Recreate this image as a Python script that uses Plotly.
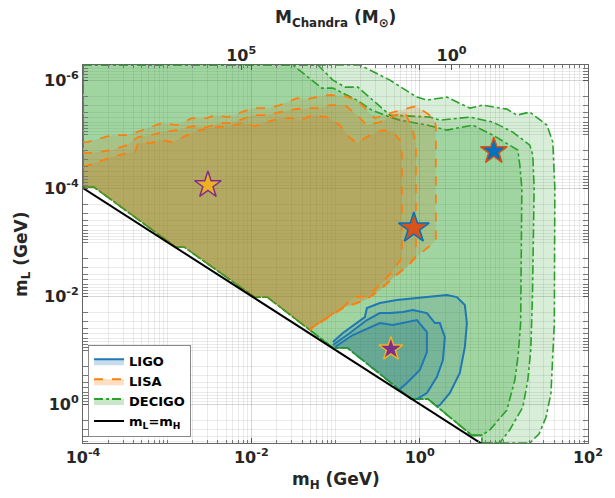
import numpy as np
import plotly.graph_objects as go

# ---------------- data (log10 values) ----------------
# shared lower boundary (staircase just above m_L = m_H), left -> right
stair_log_mH = [-4.0, -3.87, -2.90, -2.80, -1.96, -1.81, -1.03, -0.86, -0.10, 0.10, 0.62, 0.74, 0.74]
stair_log_mL = [-4.02, -4.02, -2.91, -2.91, -1.98, -1.98, -1.04, -1.04, -0.09, -0.09, 0.58, 0.58, 0.72]

# DECIGO contours: upper/right boundary, from top-left going clockwise
decigo_outer_log_mH = [-4.0, -0.71, -0.354, -0.033, 0.086, 0.323, 0.596, 0.751, 1.036, 1.154, 1.309,
                       1.511, 1.582, 1.606, 1.60, 1.56, 1.50, 1.42, 1.31]
decigo_outer_log_mL = [-6.28, -6.28, -6.0, -5.685, -5.63, -5.685, -5.481, -5.537, -5.463, -5.352, -5.407,
                       -5.167, -4.852, -4.0, -1.5, -0.2, 0.25, 0.55, 0.722]
decigo_mid_log_mH = [-4.0, -1.209, -1.031, -0.888, -0.734, -0.354, 0.121, 0.240, 0.596, 0.774, 0.869,
                     1.107, 1.309, 1.344, 1.36, 1.34, 1.32, 1.285, 1.226, 1.07, 0.95]
decigo_mid_log_mL = [-6.28, -6.28, -6.0, -5.87, -5.87, -5.352, -5.315, -5.259, -5.315, -5.259, -5.222,
                     -5.037, -4.796, -4.611, -4.0, -2.0, -1.0, -0.444, 0.056, 0.481, 0.722]
decigo_inner_log_mH = [-4.0, -1.506, -1.162, -1.031, -0.746, -0.568, -0.354, -0.235, 0.086, 0.323, 0.632,
                       0.869, 1.166, 1.190, 1.214, 1.20, 1.17, 1.131, 1.036, 0.834, 0.74]
decigo_inner_log_mL = [-6.28, -6.28, -5.852, -5.852, -5.63, -5.444, -5.315, -5.259, -5.167, -5.074, -5.167,
                       -4.981, -4.704, -4.426, -4.0, -1.5, -0.9, -0.444, 0.111, 0.481, 0.58]

# LISA contours: from left edge along the top, down the right side, to the staircase
lisa_outer_log_mH = [-4.0, -3.952, -3.656, -3.477, -3.359, -3.204, -3.062, -2.884, -2.705, -2.527, -2.432,
                     -2.278, -2.100, -1.981, -1.815, -1.660, -1.458, -1.340, -1.185, -1.066, -0.888,
                     -0.746, -0.627, -0.532, -0.354, -0.140, -0.045, 0.157, 0.192, 0.192, 0.133,
                     -0.045, -0.140, -0.295, -0.473, -0.651, -0.912, -1.268, -1.304]
lisa_outer_log_mL = [-4.852, -4.852, -4.981, -4.981, -5.037, -5.130, -5.204, -5.167, -5.296, -5.296, -5.352,
                     -5.315, -5.407, -5.481, -5.481, -5.537, -5.667, -5.648, -5.704, -5.722, -5.704,
                     -5.630, -5.444, -5.296, -5.389, -5.481, -5.519, -5.315, -5.167, -3.037, -2.944,
                     -2.722, -2.556, -2.370, -2.111, -1.926, -1.778, -1.426, -1.370]
lisa_mid_log_mH = [-4.0, -3.976, -3.822, -3.656, -3.477, -3.347, -3.204, -3.050, -2.884, -2.694, -2.527,
                   -2.373, -2.254, -2.100, -1.981, -1.815, -1.660, -1.482, -1.304, -1.185, -1.066,
                   -0.888, -0.746, -0.627, -0.473, -0.295, -0.176, -0.081, -0.045, -0.045,
                   -0.140, -0.295, -0.473, -0.651, -0.912, -1.268, -1.304]
lisa_mid_log_mL = [-4.648, -4.648, -4.667, -4.704, -4.796, -4.944, -4.981, -5.037, -5.074, -5.148, -5.130,
                   -5.204, -5.204, -5.278, -5.352, -5.352, -5.407, -5.463, -5.481, -5.481, -5.537,
                   -5.537, -5.352, -5.167, -5.222, -5.352, -5.407, -5.074, -4.796, -2.741,
                   -2.556, -2.370, -2.111, -1.926, -1.778, -1.426, -1.370]
lisa_inner_log_mH = [-4.0, -3.822, -3.656, -3.477, -3.382, -3.347, -3.204, -3.050, -2.931, -2.765, -2.610,
                     -2.409, -2.254, -2.100, -1.957, -1.815, -1.660, -1.506, -1.423, -1.268, -1.102,
                     -0.948, -0.865, -0.746, -0.591, -0.437, -0.318, -0.235, -0.211, -0.211,
                     -0.330, -0.473, -0.615, -0.770, -0.912, -1.268, -1.304]
lisa_inner_log_mL = [-4.389, -4.481, -4.574, -4.648, -4.667, -4.833, -4.833, -4.889, -4.852, -4.981, -5.074,
                     -5.130, -5.148, -5.204, -5.148, -5.222, -5.296, -5.296, -5.259, -5.352, -5.315,
                     -5.167, -4.981, -4.833, -4.981, -5.074, -5.037, -4.889, -4.611, -2.704,
                     -2.444, -2.204, -2.0, -1.981, -1.796, -1.426, -1.370]

# LIGO contours: from lower-left tip, over the top, down to the staircase
ligo_outer_log_mH = [-1.031, -0.912, -0.651, -0.627, -0.473, -0.271, -0.033, 0.323, 0.442, 0.537, 0.561,
                     0.537, 0.477, 0.359, 0.240, 0.204]
ligo_outer_log_mL = [-1.148, -1.315, -1.611, -1.778, -1.870, -1.926, -1.963, -2.019, -1.981, -1.833, -1.5,
                     -1.056, -0.574, -0.204, 0.019, 0.044]
ligo_mid_log_mH = [-1.031, -0.829, -0.627, -0.473, -0.354, -0.200, -0.081, 0.086, 0.181, 0.240, 0.299,
                   0.276, 0.204, 0.086, -0.033]
ligo_mid_log_mL = [-1.093, -1.315, -1.556, -1.685, -1.685, -1.704, -1.741, -1.685, -1.5, -1.5, -1.241,
                   -0.815, -0.5, -0.204, -0.09]
ligo_inner_log_mH = [-1.007, -0.793, -0.473, -0.318, -0.033, 0.086, 0.086, 0.002, -0.152, -0.24]
ligo_inner_log_mL = [-1.056, -1.278, -1.5, -1.463, -1.556, -1.333, -0.963, -0.630, -0.389, -0.27]

# benchmark stars (m_H, m_L) in GeV
star_mH = [3.05e-3, 0.853, 7.6, 0.455]
star_mL = [8.8e-5, 5.5e-4, 2.07e-5, 0.0957]
star_fill = ["#EDB120", "#D95319", "#0072BD", "#7E2F8E"]
star_edge = ["#7E2F8E", "#0072BD", "#D95319", "#EDB120"]
star_size = [20, 23, 20, 18]

# m_L = m_H line
diag_mH = [1e-4, 1e2]
diag_mL = [1e-4, 1e2]

# Chandrasekhar mass normalisation: M = chandra_norm / m_H^2  (M_sun, GeV)
chandra_norm = 5.75

x_log_range = [-4.0, 2.0]
y_log_range = [-6.28, 0.722]
x_major = [1e-4, 1e-2, 1e0, 1e2]
x_major_text = ["10<sup>-4</sup>", "10<sup>-2</sup>", "10<sup>0</sup>", "10<sup>2</sup>"]
y_major = [1e-6, 1e-4, 1e-2, 1e0]
y_major_text = ["10<sup>-6</sup>", "10<sup>-4</sup>", "10<sup>-2</sup>", "10<sup>0</sup>"]
top_major = [1e5, 1e0]
top_major_text = ["10<sup>5</sup>", "10<sup>0</sup>"]

# ---------------- build polygons ----------------
stair = list(zip(stair_log_mH, stair_log_mL))
GREEN = "#2ca02c"
ORANGE = "#ff7f0e"
BLUE = "#1f77b4"
FONT = "DejaVu Sans"
DEC_FILL = "rgba(44,160,44,0.18)"
LISA_FILL = "rgba(205,115,20,0.17)"
LIGO_FILL = "rgba(30,110,135,0.17)"


def to_lin(pts):
    return [10 ** p[0] for p in pts], [10 ** p[1] for p in pts]


fig = go.Figure()


def add_region(fill_pts, line_pts, color, fillcolor, dash, width, group):
    fx, fy = to_lin(fill_pts)
    fig.add_trace(go.Scatter(x=fx, y=fy, mode="lines", fill="toself", fillcolor=fillcolor,
                             line=dict(width=0, color=fillcolor), showlegend=False,
                             legendgroup=group, hoverinfo="skip"))
    lx, ly = to_lin(line_pts)
    fig.add_trace(go.Scatter(x=lx, y=ly, mode="lines",
                             line=dict(color=color, width=width, dash=dash),
                             showlegend=False, legendgroup=group, hoverinfo="skip"))


# DECIGO (outline drawn all round, incl. staircase and plot edges)
for i, (lx, ly) in enumerate([(decigo_outer_log_mH, decigo_outer_log_mL),
                              (decigo_mid_log_mH, decigo_mid_log_mL),
                              (decigo_inner_log_mH, decigo_inner_log_mL)]):
    rev = stair[::-1] if i < 2 else stair[::-1][2:]
    pts = list(zip(lx, ly)) + rev
    pts.append(pts[0])
    add_region(pts, pts, GREEN, DEC_FILL, "dashdot", 1.6, "DECIGO")

# LISA (outline only along the upper/right side)
for lx, ly in [(lisa_outer_log_mH, lisa_outer_log_mL),
               (lisa_mid_log_mH, lisa_mid_log_mL),
               (lisa_inner_log_mH, lisa_inner_log_mL)]:
    line_pts = list(zip(lx, ly))
    rev = [p for p in stair[::-1] if p[0] <= -1.81 + 1e-9]
    pts = line_pts + rev
    pts.append(pts[0])
    add_region(pts, line_pts, ORANGE, LISA_FILL, "dash", 1.8, "LISA")

# LIGO (outline only away from the staircase)
for lx, ly in [(ligo_outer_log_mH, ligo_outer_log_mL),
               (ligo_mid_log_mH, ligo_mid_log_mL),
               (ligo_inner_log_mH, ligo_inner_log_mL)]:
    line_pts = list(zip(lx, ly))
    back = [p for p in stair[::-1] if lx[0] + 1e-9 < p[0] < lx[-1] - 1e-9]
    pts = line_pts + back + [(lx[0], -1.04)]
    pts.append(pts[0])
    add_region(pts, line_pts, BLUE, LIGO_FILL, "solid", 2, "LIGO")

# legend entries: sub-pixel polygons hidden beneath the first star
leg_x = [star_mH[0], star_mH[0] * 1.0002, star_mH[0], star_mH[0]]
leg_y = [star_mL[0], star_mL[0], star_mL[0] * 1.0002, star_mL[0]]
for name, color, fillc, dash, rank in [("LIGO", BLUE, "rgba(31,119,180,0.25)", "solid", 1),
                                       ("LISA", ORANGE, "rgba(255,127,14,0.25)", "dash", 2),
                                       ("DECIGO", GREEN, "rgba(44,160,44,0.25)", "dashdot", 3)]:
    fig.add_trace(go.Scatter(x=leg_x, y=leg_y, mode="lines", fill="toself", fillcolor=fillc,
                             line=dict(color=color, width=2, dash=dash), name=name,
                             legendrank=rank, hoverinfo="skip"))

# m_L = m_H
fig.add_trace(go.Scatter(
    x=diag_mH, y=diag_mL, mode="lines", line=dict(color="black", width=2),
    name="m<sub>L</sub>=m<sub>H</sub>", legendrank=4, hoverinfo="skip"))

# stars
fig.add_trace(go.Scatter(
    x=star_mH, y=star_mL, mode="markers",
    marker=dict(symbol="star", size=star_size, color=star_fill, opacity=1,
                line=dict(color=star_edge, width=1.5)),
    showlegend=False, hoverinfo="skip"))

# helper trace for the top (Chandrasekhar mass) axis
fig.add_trace(go.Scatter(x=[1.0], y=[1e-3], xaxis="x2", mode="markers",
                         marker=dict(opacity=0), showlegend=False, hoverinfo="skip"))

# minor grid values
x_minor = [k * 10.0 ** e for e in range(-4, 2) for k in range(1, 10) if k > 1 or e % 2 != 0]
y_minor = [k * 10.0 ** e for e in range(-7, 1) for k in range(1, 10) if k > 1 or e % 2 != 0]

tickfont = dict(family=FONT, size=16, color="#262626", weight="bold")

fig.update_layout(
    width=615, height=498,
    margin=dict(l=83, r=27, t=65, b=55),
    paper_bgcolor="white", plot_bgcolor="white",
    font=dict(family=FONT, color="#262626"),
    xaxis=dict(type="log", range=x_log_range, tickvals=x_major, ticktext=x_major_text,
               tickfont=tickfont, ticks="inside", ticklen=5, tickcolor="#555",
               showgrid=True, gridcolor="rgba(0,0,0,0.16)", gridwidth=1,
               showline=True, linecolor="#666", linewidth=1, mirror="allticks", zeroline=False,
               minor=dict(tickvals=x_minor, showgrid=True, gridcolor="rgba(0,0,0,0.08)",
                          ticks="inside", ticklen=3, tickcolor="#777")),
    yaxis=dict(type="log", range=[y_log_range[1], y_log_range[0]], tickvals=y_major,
               ticktext=y_major_text, tickfont=tickfont, ticks="inside", ticklen=5,
               tickcolor="#555", showgrid=True, gridcolor="rgba(0,0,0,0.16)",
               showline=True, linecolor="#666", linewidth=1, mirror="allticks", zeroline=False,
               minor=dict(tickvals=y_minor, showgrid=True, gridcolor="rgba(0,0,0,0.08)",
                          ticks="inside", ticklen=3, tickcolor="#777")),
    xaxis2=dict(type="log", overlaying="x", side="top",
                range=[np.log10(chandra_norm) - 2 * x_log_range[0],
                       np.log10(chandra_norm) - 2 * x_log_range[1]],
                tickvals=top_major, ticktext=top_major_text, tickfont=tickfont,
                ticks="inside", ticklen=5, tickcolor="#555", showgrid=False,
                showline=False, zeroline=False),
    legend=dict(x=0.01, y=0.015, xanchor="left", yanchor="bottom",
                bgcolor="white", bordercolor="#888", borderwidth=1,
                font=dict(family=FONT, size=13, color="black", weight="bold"),
                tracegroupgap=0, itemwidth=30),
    showlegend=True,
)

title_font = dict(family=FONT, size=17, color="#262626")
fig.add_annotation(text="<b>m<sub>H</sub> (GeV)</b>", xref="paper", yref="paper",
                   x=0.5, y=-0.10, xanchor="center", yanchor="middle",
                   showarrow=False, font=title_font)
fig.add_annotation(text="<b>m<sub>L</sub> (GeV)</b>", xref="paper", yref="paper",
                   x=-0.121, y=0.5, xanchor="center", yanchor="middle", textangle=-90,
                   showarrow=False, font=title_font)
fig.add_annotation(text="<b>M<sub>Chandra</sub> (M<sub>⊙</sub>)</b>", xref="paper", yref="paper",
                   x=0.5, y=1.124, xanchor="center", yanchor="middle",
                   showarrow=False, font=title_font)

fig.write_html("out.html")
